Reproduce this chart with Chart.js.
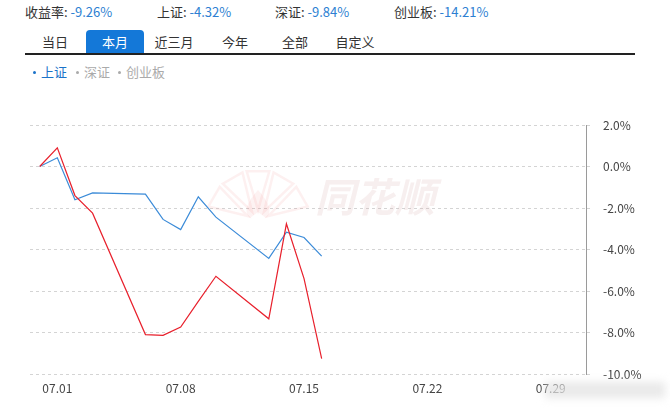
<!DOCTYPE html>
<html>
<head>
<meta charset="utf-8">
<script src="https://cdn.jsdelivr.net/npm/chart.js@4/dist/chart.umd.min.js"></script>
<style>
  html, body { margin: 0; padding: 0; background: #fff; }
  body { width: 670px; height: 416px; position: relative; overflow: hidden;
         font-family: "Microsoft YaHei", "Noto Sans CJK SC", sans-serif; color: #333; }
  .hd { position: absolute; top: 3px; font-size: 13px; line-height: 18px; white-space: nowrap; }
  .hd span { color: #2d7fd2; }
  .tabs { position: absolute; left: 25px; top: 30px; width: 610px; height: 23px; border-bottom: 2px solid #222; }
  .tab { position: absolute; top: 0; height: 23px; line-height: 24px; font-size: 13px; text-align: center; width: 58px; }
  .tab.on { background: #1478d8; color: #fff; border-radius: 4px 4px 0 0; }
  .lg { position: absolute; top: 63px; font-size: 13px; line-height: 18px; color: #aaa; white-space: nowrap; }
  .lg.on { color: #1a72c9; }
  .lg i { display: inline-block; width: 3px; height: 3px; border-radius: 50%; background: currentColor;
          vertical-align: middle; margin: 0 5px 2px 2px; }
  #wrap { position: absolute; left: 0; top: 0; width: 670px; height: 416px; }
  .blur { position: absolute; left: 545px; top: 382px; width: 120px; height: 16px;
          background: rgba(228,228,228,0.8); filter: blur(4px); }
</style>
</head>
<body>
<div class="hd" style="left:25px">收益率: <span>-9.26%</span></div>
<div class="hd" style="left:157px">上证: <span>-4.32%</span></div>
<div class="hd" style="left:275px">深证: <span>-9.84%</span></div>
<div class="hd" style="left:394px">创业板: <span>-14.21%</span></div>

<div class="tabs">
  <div class="tab" style="left:1px">当日</div>
  <div class="tab on" style="left:61px">本月</div>
  <div class="tab" style="left:120px">近三月</div>
  <div class="tab" style="left:181px">今年</div>
  <div class="tab" style="left:241px">全部</div>
  <div class="tab" style="left:301px">自定义</div>
</div>

<div class="lg on" style="left:31px"><i></i>上证</div>
<div class="lg" style="left:74px"><i></i>深证</div>
<div class="lg" style="left:116px"><i></i>创业板</div>

<div id="wrap"><canvas id="chart" width="670" height="416"></canvas></div>
<div class="blur"></div>

<script>
// trading dates shown on the chart (06.30 is the base day)
const dates = ["06.30", "07.01", "07.02", "07.03", "07.06", "07.07", "07.08",
               "07.09", "07.10", "07.13", "07.14", "07.15", "07.16"];
// 收益率 (red) and 上证 (blue), in percent
const returnValues = [0, 0.9, -1.4, -2.25, -8.1, -8.14, -7.74, -6.5, -5.29, -7.34, -2.76, -5.4, -9.26];
const shValues = [0, 0.42, -1.6, -1.27, -1.33, -2.55, -3.04, -1.46, -2.44, -4.43, -3.17, -3.42, -4.32];
const xTickLabels = ["07.01", "07.08", "07.15", "07.22", "07.29"];
const yMin = -10, yMax = 2, yStep = 2;

// day offset from 06.30
const dayNum = s => {
    const [m, d] = s.split(".").map(Number);
    return (m - 7) * 30 + d;
};
const toPoints = vals => dates.map((d, i) => ({ x: dayNum(d), y: vals[i] }));

// faint 同花顺 watermark behind the lines
const watermark = {
    id: "watermark",
    beforeDatasetsDraw(chart) {
        const ctx = chart.ctx;
        ctx.save();
        ctx.strokeStyle = "rgba(235,130,130,0.12)";
        ctx.fillStyle = "rgba(235,130,130,0.10)";
        ctx.lineWidth = 2.5;
        const cx = 258, cy = 222;
        // fanned cards
        for (let a = -150; a <= -30; a += 30) {
            const r = (a * Math.PI) / 180;
            const w = 0.22;
            ctx.beginPath();
            ctx.moveTo(cx + Math.cos(r) * 12, cy + Math.sin(r) * 12);
            ctx.lineTo(cx + Math.cos(r - w) * 52, cy + Math.sin(r - w) * 52);
            ctx.lineTo(cx + Math.cos(r + w) * 52, cy + Math.sin(r + w) * 52);
            ctx.closePath();
            ctx.stroke();
        }
        // spade
        ctx.beginPath();
        ctx.moveTo(cx, cy - 32);
        ctx.quadraticCurveTo(cx + 18, cy - 12, cx + 8, cy - 4);
        ctx.lineTo(cx, cy - 10);
        ctx.lineTo(cx - 8, cy - 4);
        ctx.quadraticCurveTo(cx - 18, cy - 12, cx, cy - 32);
        ctx.fill();
        ctx.font = "bold italic 40px 'Noto Sans CJK SC', sans-serif";
        ctx.fillStyle = "rgba(215,175,175,0.2)";
        ctx.textBaseline = "middle";
        ctx.fillText("同花顺", 315, 197);
        ctx.restore();
    }
};

new Chart(document.getElementById("chart"), {
    type: "line",
    data: {
        datasets: [
            {
                label: "收益率",
                data: toPoints(returnValues),
                borderColor: "#e8202c",
                borderWidth: 1.2,
                pointRadius: 0,
                tension: 0
            },
            {
                label: "上证",
                data: toPoints(shValues),
                borderColor: "#3b8bd8",
                borderWidth: 1.2,
                pointRadius: 0,
                tension: 0
            }
        ]
    },
    options: {
        responsive: false,
        animation: false,
        layout: { padding: { left: 30, top: 125, right: 0, bottom: 0 } },
        plugins: { legend: { display: false }, tooltip: { enabled: false } },
        scales: {
            x: {
                type: "linear",
                min: -0.55,
                max: 31,
                grid: { display: false, drawTicks: false },
                border: { display: false },
                afterBuildTicks: s => {
                    s.ticks = xTickLabels.map(t => ({ value: dayNum(t) }));
                },
                afterFit: s => { s.height = 42; },
                ticks: {
                    padding: 7,
                    maxRotation: 0,
                    color: "#444",
                    font: { size: 12, family: "'Microsoft YaHei', 'Noto Sans CJK SC', sans-serif" },
                    callback: v => xTickLabels.find(t => dayNum(t) === v) || ""
                }
            },
            y: {
                position: "right",
                min: yMin,
                max: yMax,
                afterFit: s => { s.width = 84; },
                grid: { color: "#d4d4d4", lineWidth: 1, tickLength: 6, tickBorderDash: [3, 3] },
                border: { display: true, color: "#9a9a9a", width: 1, dash: [3, 3] },
                ticks: {
                    stepSize: yStep,
                    padding: 11,
                    color: "#444",
                    font: { size: 12, family: "'Microsoft YaHei', 'Noto Sans CJK SC', sans-serif" },
                    callback: v => v.toFixed(1) + "%"
                }
            }
        }
    },
    plugins: [watermark]
});
</script>
</body>
</html>
